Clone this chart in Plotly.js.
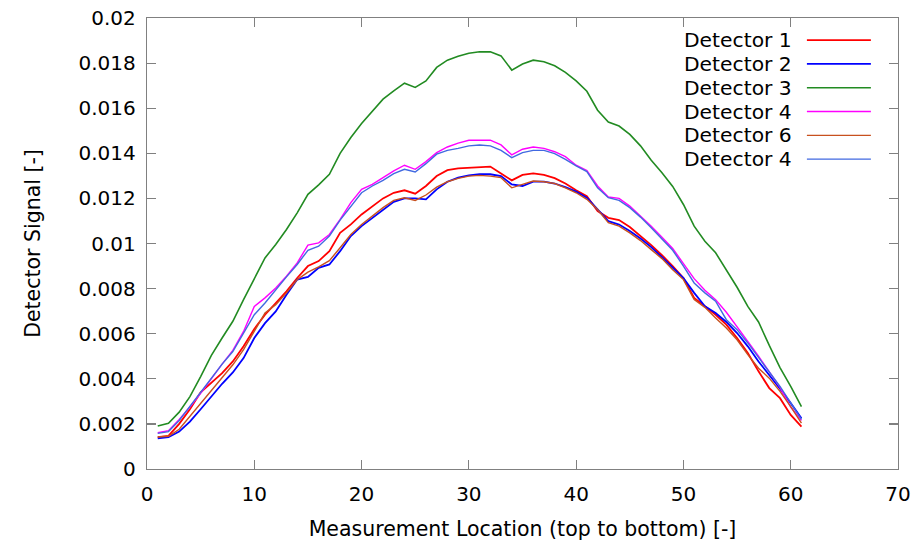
<!DOCTYPE html>
<html>
<head>
<meta charset="utf-8">
<script src="https://cdn.plot.ly/plotly-3.0.1.min.js"></script>
<style>html,body{margin:0;padding:0;background:#fff;}#chart{width:915px;height:542px;}</style>
</head>
<body>
<div id="chart"></div>
<script>
// Measurement locations
const locations = [1,2,3,4,5,6,7,8,9,10,11,12,13,14,15,16,17,18,19,20,21,22,23,24,25,26,27,28,29,30,31,32,33,34,35,36,37,38,39,40,41,42,43,44,45,46,47,48,49,50,51,52,53,54,55,56,57,58,59,60,61];

// Detector signals (values in units of 1e-3)
const det1 = [1.41,1.47,2.00,2.65,3.40,3.81,4.25,4.77,5.44,6.21,6.84,7.36,7.88,8.47,9.00,9.22,9.66,10.47,10.85,11.29,11.66,12.00,12.25,12.36,12.21,12.55,12.99,13.25,13.33,13.36,13.41,13.41,13.10,12.80,13.04,13.11,13.04,12.90,12.66,12.36,12.10,11.44,11.14,11.04,10.73,10.33,9.93,9.48,9.00,8.47,7.59,7.22,6.84,6.40,5.81,5.14,4.33,3.59,3.14,2.40,1.88];
const det2 = [1.36,1.41,1.66,2.10,2.65,3.24,3.78,4.28,4.92,5.81,6.47,6.99,7.73,8.40,8.52,8.92,9.07,9.66,10.33,10.77,11.14,11.51,11.85,12.00,12.00,11.96,12.40,12.74,12.92,13.02,13.07,13.07,12.99,12.62,12.55,12.74,12.74,12.66,12.50,12.30,12.03,11.51,10.99,10.84,10.55,10.22,9.84,9.39,8.95,8.47,7.81,7.22,6.92,6.52,6.03,5.44,4.77,4.18,3.56,2.92,2.25];
const det3 = [1.91,2.03,2.52,3.21,4.10,5.04,5.81,6.55,7.51,8.44,9.36,9.96,10.62,11.36,12.18,12.60,13.07,14.00,14.70,15.32,15.88,16.40,16.77,17.11,16.92,17.21,17.81,18.13,18.30,18.44,18.50,18.50,18.32,17.69,17.96,18.13,18.06,17.88,17.59,17.21,16.75,15.91,15.39,15.21,14.84,14.33,13.69,13.14,12.53,11.73,10.77,10.10,9.59,8.84,8.06,7.21,6.52,5.48,4.50,3.66,2.77];
const det4a = [1.61,1.70,2.20,2.75,3.36,4.03,4.65,5.26,6.10,7.21,7.59,8.03,8.55,9.14,9.93,10.03,10.40,11.07,11.81,12.40,12.62,12.92,13.22,13.47,13.29,13.63,14.03,14.28,14.45,14.58,14.58,14.58,14.37,13.93,14.18,14.28,14.22,14.07,13.85,13.47,13.24,12.55,12.06,12.00,11.66,11.22,10.77,10.28,9.78,9.11,8.44,7.93,7.51,6.95,6.33,5.66,5.00,4.33,3.62,2.75,2.15];
const det6 = [1.42,1.45,1.76,2.33,2.92,3.51,4.03,4.62,5.29,6.10,6.92,7.29,7.81,8.40,8.73,8.96,9.24,9.81,10.40,10.84,11.22,11.59,11.91,12.03,11.91,12.15,12.50,12.74,12.89,12.99,13.02,12.99,12.92,12.47,12.62,12.77,12.74,12.66,12.47,12.25,11.96,11.51,10.92,10.77,10.47,10.13,9.73,9.33,8.84,8.40,7.51,7.17,6.70,6.25,5.73,5.07,4.47,4.03,3.44,2.77,2.03];
const det4b = [1.58,1.66,2.15,2.77,3.36,4.00,4.65,5.21,6.03,6.84,7.36,7.96,8.52,9.07,9.70,9.88,10.33,11.04,11.66,12.25,12.55,12.80,13.10,13.29,13.17,13.54,13.96,14.13,14.22,14.33,14.37,14.33,14.13,13.81,14.03,14.13,14.13,13.99,13.73,13.44,13.19,12.47,12.03,11.91,11.59,11.17,10.70,10.22,9.70,9.00,8.25,7.81,7.44,6.62,6.18,5.59,4.92,4.30,3.66,2.92,2.20];

const seriesNames = ['Detector 1','Detector 2','Detector 3','Detector 4','Detector 6','Detector 4'];
const seriesColors = ['#ff0000','#0000ff','#228b22','#ff00ff','#c8501e','#4169e1'];
const seriesWidths = [1.8,1.8,1.6,1.4,1.4,1.4];
const seriesValues = [det1, det2, det3, det4a, det6, det4b];

const yTickVals = [0,0.002,0.004,0.006,0.008,0.01,0.012,0.014,0.016,0.018,0.02];
const yTickText = ['0','0.002','0.004','0.006','0.008','0.01','0.012','0.014','0.016','0.018','0.02'];
const xTickVals = [0,10,20,30,40,50,60,70];
const xTickText = ['0','10','20','30','40','50','60','70'];

const FONT = 'DejaVu Sans, sans-serif';

const traces = seriesValues.map((vals, i) => ({
  x: locations,
  y: vals.map(v => v / 1000),
  type: 'scatter',
  mode: 'lines',
  name: seriesNames[i],
  line: {color: seriesColors[i], width: seriesWidths[i]},
  showlegend: false
}));

// Legend drawn gnuplot-style: text on the left, sample line on the right
const annotations = [];
const shapes = [];
const rowTop = 0.951, rowStep = 0.0528;
seriesNames.forEach((name, i) => {
  const yy = rowTop - i * rowStep;
  annotations.push({
    xref: 'paper', yref: 'paper', x: 0.861, y: yy,
    xanchor: 'right', yanchor: 'middle', showarrow: false,
    text: name, font: {family: FONT, size: 20.3, color: '#000'}
  });
  shapes.push({
    type: 'line', xref: 'paper', yref: 'paper',
    x0: 0.8787, x1: 0.9639, y0: yy, y1: yy,
    line: {color: seriesColors[i], width: seriesWidths[i]}
  });
});

const axisCommon = {
  showgrid: false, zeroline: false,
  showline: true, linecolor: '#808080', linewidth: 1.2,
  mirror: 'ticks', ticks: 'inside', ticklen: 9, tickwidth: 1.2, tickcolor: '#808080',
  tickfont: {family: FONT, size: 20, color: '#000'}
};

const layout = {
  width: 915, height: 542,
  margin: {l: 147, r: 17, t: 18, b: 73},
  paper_bgcolor: '#fff', plot_bgcolor: '#fff',
  showlegend: false,
  xaxis: Object.assign({}, axisCommon, {
    range: [0, 70], tickmode: 'array', tickvals: xTickVals, ticktext: xTickText,
    ticklabelstandoff: 7,
    title: {text: 'Measurement Location (top to bottom) [-]', font: {family: FONT, size: 20.5, color: '#000'}, standoff: 16}
  }),
  yaxis: Object.assign({}, axisCommon, {
    range: [0, 0.02], tickmode: 'array', tickvals: yTickVals, ticktext: yTickText,
    ticklabelstandoff: 6,
    title: {text: 'Detector Signal [-]', font: {family: FONT, size: 20.5, color: '#000'}, standoff: 32}
  }),
  annotations: annotations,
  shapes: shapes
};

Plotly.newPlot('chart', traces, layout, {staticPlot: true, displayModeBar: false});
</script>
</body>
</html>
